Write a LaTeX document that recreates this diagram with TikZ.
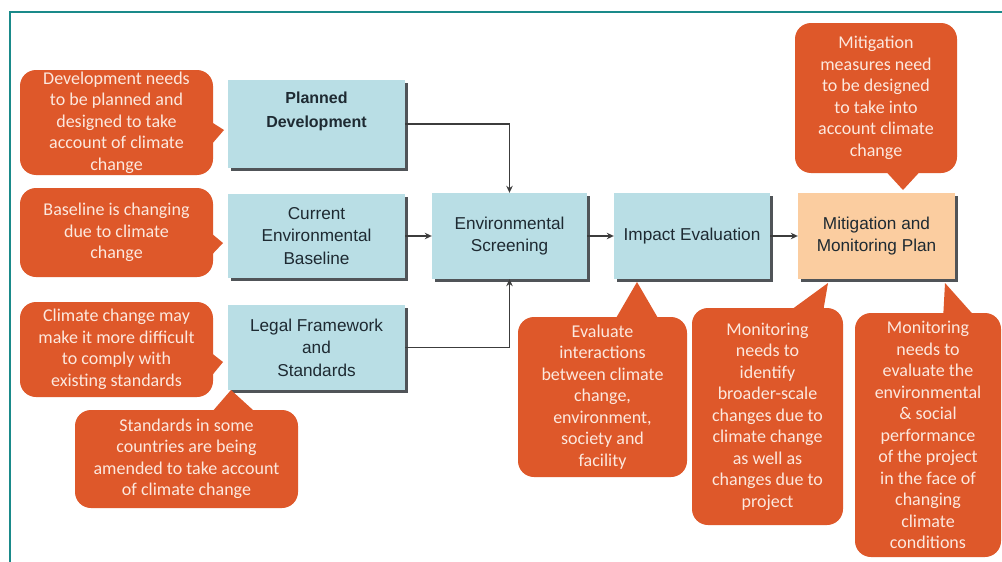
\documentclass[tikz,border=0pt]{standalone}
\usepackage{fontspec}
\setmainfont{Liberation Sans}
\newfontfamily\callfont{Carlito}
\usetikzlibrary{arrows.meta,shadows}
\definecolor{callc}{RGB}{222,88,42}
\definecolor{calltext}{RGB}{252,232,222}
\definecolor{boxblue}{RGB}{185,222,229}
\definecolor{boxpeach}{RGB}{251,205,160}
\definecolor{boxtext}{RGB}{30,42,50}
\definecolor{shadowc}{RGB}{80,84,88}
\definecolor{framec}{RGB}{26,138,138}
\definecolor{arrc}{RGB}{60,60,60}
\begin{document}
\begin{tikzpicture}[x=1pt,y=-1pt,
 flowbox/.style={fill=boxblue, draw=none, minimum width=177pt, minimum height=86pt, inner sep=0pt, align=center, text=boxtext, font=\fontsize{17.2}{22.5}\selectfont, drop shadow={shadow xshift=2.5pt, shadow yshift=-2.5pt, fill=shadowc, opacity=1}},
 callout/.style={fill=callc, rounded corners=16pt, inner sep=0pt, align=center, text=calltext, font=\callfont\fontsize{18}{21.5}\selectfont},
 ptr/.style={fill=callc},
 arr/.style={draw=arrc, line width=1.1pt, -{Stealth[length=7pt,width=6.5pt]}},
 frameline/.style={draw=framec, line width=2pt}]
\useasboundingbox (0,0) rectangle (1002,562);
\fill[white] (0,0) rectangle (1002,562);
\draw[frameline] (10,562) -- (10,12) -- (1002,12);

% process boxes
\node[flowbox, minimum height=88pt, label={[yshift=13pt,font=\bfseries\fontsize{16}{24}\selectfont,text=boxtext,align=center]center:Planned\\Development}] (pd) at (316.5,124) {};
\node[flowbox, minimum height=84pt] (cb) at (316.5,236) {Current\\Environmental\\Baseline};
\node[flowbox, minimum height=85pt] (lf) at (316.5,347.5) {Legal Framework\\and\\Standards};
\node[flowbox, minimum width=155pt, minimum height=86pt] (es) at (509.5,236) {Environmental\\Screening};
\node[flowbox, minimum width=156pt, minimum height=86pt] (ie) at (692,236) {Impact Evaluation};
\node[flowbox, fill=boxpeach, minimum width=157pt, minimum height=86pt] (mm) at (876.5,236) {Mitigation and\\Monitoring Plan};

% connectors
\draw[arr] (pd.east) -| (es.north);
\draw[arr] (cb.east) -- (es.west);
\draw[arr] (lf.east) -| (es.south);
\draw[arr] (es.east) -- (ie.west);
\draw[arr] (ie.east) -- (mm.west);

% callout pointers
\fill[ptr] (205,118) -- (224,130) -- (205,152) -- cycle;
\fill[ptr] (205,228) -- (223,243) -- (205,262) -- cycle;
\fill[ptr] (205,348) -- (223,362) -- (205,384) -- cycle;
\fill[ptr] (205,420) -- (231,390) -- (264,420) -- cycle;
\fill[ptr] (612,325) -- (637,282) -- (662,325) -- cycle;
\fill[ptr] (780,318) -- (828,283) -- (822,318) -- cycle;
\fill[ptr] (943,320) -- (945,283) -- (978,320) -- cycle;
\fill[ptr] (880,165) -- (903,190) -- (926,165) -- cycle;

% callouts
\node[callout, minimum width=193pt, minimum height=105pt] (c1) at (116.5,122.5) {Development needs\\to be planned and\\designed to take\\account of climate\\change};
\node[callout, minimum width=193pt, minimum height=89pt] (c2) at (116.5,232.5) {Baseline is changing\\due to climate\\change};
\node[callout, minimum width=193pt, minimum height=95pt] (c3) at (116.5,349.5) {Climate change may\\make it more difficult\\to comply with\\existing standards};
\node[callout, minimum width=223pt, minimum height=98pt] (c4) at (186.5,459) {Standards in some\\countries are being\\amended to take account\\of climate change};
\node[callout, minimum width=169pt, minimum height=160pt] (c5) at (602.5,397) {Evaluate\\interactions\\between climate\\change,\\environment,\\society and\\facility};
\node[callout, minimum width=151pt, minimum height=217pt] (c6) at (767.5,416.5) {Monitoring\\needs to\\identify\\broader-scale\\changes due to\\climate change\\as well as\\changes due to\\project};
\node[callout, minimum width=146pt, minimum height=244pt] (c7) at (928,435) {Monitoring\\needs to\\evaluate the\\environmental\\\& social\\performance\\of the project\\in the face of\\changing\\climate\\conditions};
\node[callout, minimum width=162pt, minimum height=150pt] (c8) at (876,98) {Mitigation\\measures need\\to be designed\\to take into\\account climate\\change};
\end{tikzpicture}
\end{document}
